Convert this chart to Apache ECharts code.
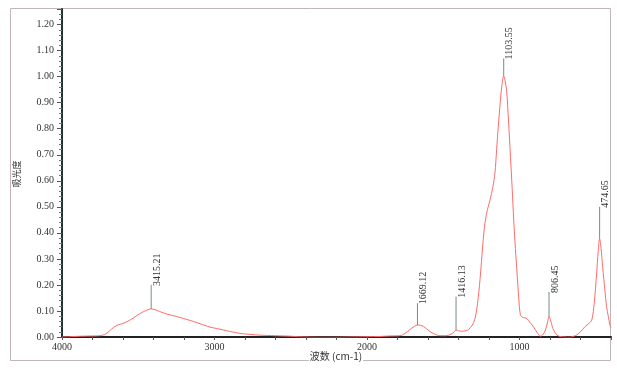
<!DOCTYPE html>
<html>
<head>
<meta charset="utf-8">
<script src="https://cdn.jsdelivr.net/npm/echarts@6/dist/echarts.min.js"></script>
<style>
html,body{margin:0;padding:0;background:#fff;}
#chart{width:617px;height:375px;}
</style>
</head>
<body>
<div id="chart"></div>
<script>
// Spectrum data (wavenumber cm-1, absorbance)
const wavenumbers = [4000,3950,3880,3800,3750,3720,3690,3660,3630,3600,3560,3530,3500,3467,3440,3415,3390,3360,3313,3270,3226,3180,3139,3080,3030,2980,2920,2870,2811,2760,2702,2650,2600,2550,2500,2450,2400,2330,2200,2111,2000,1915,1850,1784,1750,1720,1690,1669,1650,1630,1610,1587,1560,1521,1480,1456,1430,1416,1400,1379,1350,1335,1310,1292,1275,1259,1240,1226,1210,1193,1175,1161,1150,1139,1125,1117,1103.55,1095,1085,1072,1059,1048,1038,1027,1016,1005,994,980,965,950,930,907,885,863,845,830,815,806,795,785,775,755,734,700,669,640,625,600,570,545,526,510,494,484,474.65,465,455,440,429,418,407,400];
const absorbance = [0.000,0.001,0.003,0.004,0.005,0.010,0.022,0.038,0.047,0.052,0.063,0.074,0.086,0.097,0.104,0.108,0.105,0.098,0.088,0.082,0.075,0.067,0.060,0.048,0.038,0.032,0.024,0.018,0.012,0.010,0.007,0.006,0.005,0.004,0.003,0.001,0.000,-0.001,-0.001,0.000,0.001,0.002,0.004,0.005,0.014,0.028,0.041,0.046,0.045,0.041,0.032,0.021,0.012,0.005,0.005,0.009,0.018,0.027,0.024,0.022,0.024,0.028,0.045,0.070,0.130,0.220,0.360,0.440,0.490,0.527,0.575,0.630,0.720,0.810,0.910,0.960,1.003,0.985,0.950,0.830,0.690,0.570,0.450,0.340,0.245,0.150,0.085,0.076,0.074,0.070,0.055,0.038,0.018,0.003,0.010,0.027,0.060,0.080,0.062,0.040,0.025,0.008,0.002,0.000,-0.001,0.004,0.008,0.020,0.040,0.052,0.065,0.130,0.245,0.330,0.378,0.340,0.270,0.180,0.117,0.080,0.046,0.035];

// Peak annotations
const peakWavenumbers = [3415.21,1669.12,1416.13,1103.55,806.45,474.65];
const peakValues = [0.108,0.046,0.027,1.003,0.080,0.378];
const peakLineTops = [0.20,0.13,0.155,1.07,0.173,0.50];
const peakLabels = ['3415.21','1669.12','1416.13','1103.55','806.45','474.65'];

const xTickLabels = [4000,3000,2000,1000];
const yTickLabels = ['0.00','0.10','0.20','0.30','0.40','0.50','0.60','0.70','0.80','0.90','1.00','1.10','1.20'];

const xAxisName = '波数 (cm-1)';
const yAxisName = '吸光度';

const lineData = wavenumbers.map((w,i)=>[w, absorbance[i]]);
const peakData = peakWavenumbers.map((w,i)=>[w, peakValues[i], peakLineTops[i], peakLabels[i]]);

const chart = echarts.init(document.getElementById('chart'));
const serif = '"Liberation Serif","DejaVu Serif",serif';

chart.setOption({
  animation:false,
  backgroundColor:'#fff',
  grid:{left:62,right:6,top:9,bottom:38},
  xAxis:{
    type:'value', min:400, max:4000, interval:200, inverse:true,
    axisLine:{lineStyle:{color:'#222',width:2}},
    axisTick:{show:true,length:3,lineStyle:{color:'#555',width:1}},
    axisLabel:{
      margin:5, color:'#333', fontFamily:serif, fontSize:10,
      formatter:v=> xTickLabels.indexOf(Math.round(v))>=0 ? String(Math.round(v)) : ''
    },
    splitLine:{show:false}
  },
  yAxis:{
    type:'value', min:0, max:1.26, interval:0.1,
    axisLine:{show:true,lineStyle:{color:'#1f3333',width:2}},
    axisTick:{show:true,length:5,lineStyle:{color:'#555'}},
    minorTick:{show:true,splitNumber:5,length:3,lineStyle:{color:'#777'}},
    axisLabel:{
      margin:8, color:'#333', fontFamily:serif, fontSize:10,
      formatter:v=>{const i=Math.round(v*10); return (Math.abs(v*10-i)<1e-6 && i<yTickLabels.length)? yTickLabels[i] : '';}
    },
    splitLine:{show:false}
  },
  series:[
    {
      type:'line', data:lineData, showSymbol:false, smooth:0.3,
      lineStyle:{color:'#ff6b6b',width:1}, itemStyle:{color:'#ff6b6b'}, z:3
    },
    {
      type:'custom', data:peakData, clip:false, z:4,
      renderItem:(params,api)=>{
        const p0 = api.coord([api.value(0), api.value(1)]);
        const p1 = api.coord([api.value(0), api.value(2)]);
        const label = peakLabels[params.dataIndex];
        return {
          type:'group',
          children:[
            {type:'line',shape:{x1:p0[0],y1:p0[1],x2:p1[0],y2:p1[1]},style:{stroke:'#7a8a8a',lineWidth:1}},
            {type:'text',x:p1[0]+1,y:p1[1]+1,rotation:Math.PI/2,
             style:{text:label,fill:'#333',font:'10px '+serif,align:'left',verticalAlign:'top'}}
          ]
        };
      }
    }
  ],
  graphic:[
    {type:'rect',shape:{x:10.5,y:8.5,width:600,height:352},style:{fill:null,stroke:'#c4b6b6',lineWidth:1},z:0,silent:true},
    {type:'text',x:336,y:361,style:{text:xAxisName,fill:'#333',font:'10px "Noto Sans CJK SC",sans-serif',align:'center',verticalAlign:'bottom',backgroundColor:'#fff',padding:[0,1]},z:10},
    {type:'text',x:12,y:174,rotation:Math.PI/2,style:{text:yAxisName,fill:'#333',font:'9px "Noto Sans CJK SC",sans-serif',align:'center',verticalAlign:'top'},z:10}
  ]
});
</script>
</body>
</html>
